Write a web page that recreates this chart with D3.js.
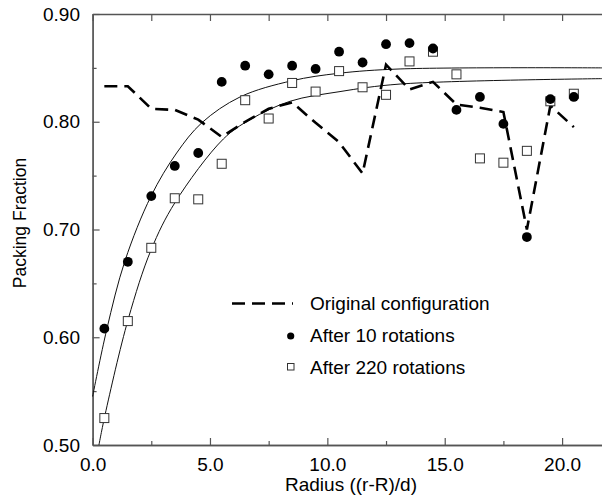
<!DOCTYPE html>
<html>
<head>
<meta charset="utf-8">
<script src="https://cdn.jsdelivr.net/npm/d3@7"></script>
<style>
    body { margin: 0; background: #fff; }
    svg { display: block; font-family: Arial, 'Liberation Sans', sans-serif; }
</style>
</head>
<body>
<svg id="chart" width="602" height="500"></svg>
<script>
// radius bins (centres)
var radius = [0.5, 1.5, 2.5, 3.5, 4.5, 5.5, 6.5, 7.5, 8.5, 9.5, 10.5,
    11.5, 12.5, 13.5, 14.5, 15.5, 16.5, 17.5, 18.5, 19.5, 20.5];

var original = [0.833, 0.833, 0.812, 0.811, 0.802, 0.786, 0.800, 0.812, 0.818, 0.799, 0.781,
    0.752, 0.853, 0.830, 0.837, 0.816, 0.813, 0.809, 0.700, 0.815, 0.795];

var after10 = [0.608, 0.670, 0.731, 0.759, 0.771, 0.837, 0.852, 0.844, 0.852, 0.849, 0.865,
    0.855, 0.872, 0.873, 0.868, 0.811, 0.823, 0.798, 0.693, 0.821, 0.823];

var after220 = [0.525, 0.615, 0.683, 0.729, 0.728, 0.761, 0.820, 0.803, 0.836, 0.828, 0.847,
    0.832, 0.825, 0.856, 0.865, 0.844, 0.766, 0.762, 0.773, 0.819, 0.826];

// fitted curves
var fit10X = [0, 0.6, 1.38, 2.49, 3.58, 4.65, 6.28, 8.48, 10.5, 13.1, 21.7];
var fit10Y = [0.545, 0.607, 0.671, 0.731, 0.771, 0.799, 0.823, 0.838, 0.845, 0.849, 0.850];
var fit220X = [0.27, 0.53, 1.52, 2.49, 3.51, 5.57, 6.71, 8.41, 10.54, 13.1, 21.7];
var fit220Y = [0.50, 0.528, 0.617, 0.681, 0.725, 0.784, 0.802, 0.819, 0.828, 0.835, 0.840];

var xMajor = [0, 5, 10, 15, 20];
var xMinor = [2.5, 7.5, 12.5, 17.5];
var yMajor = [0.5, 0.6, 0.7, 0.8, 0.9];
var yMinor = [0.55, 0.65, 0.75, 0.85];

var legendLabels = ['Original configuration', 'After 10 rotations', 'After 220 rotations'];

var svg = d3.select('#chart');

var margin = { left: 92.6, top: 14, right: 602, bottom: 445 };

var x = d3.scaleLinear().domain([0, 21.7]).range([margin.left, margin.right]);
var y = d3.scaleLinear().domain([0.5, 0.9]).range([margin.bottom, margin.top]);

var axisColor = '#555';

function styleAxis(g) {
    g.selectAll('path').attr('stroke', axisColor).attr('stroke-width', 1.3);
    g.selectAll('line').attr('stroke', axisColor).attr('stroke-width', 1.2);
    g.selectAll('text')
        .attr('fill', '#000')
        .style('font-size', '19px');
}

// bottom axis
svg.append('g')
    .attr('transform', 'translate(0,' + margin.bottom + ')')
    .call(d3.axisBottom(x).tickValues(xMajor).tickSize(-7).tickSizeOuter(0)
        .tickPadding(13).tickFormat(d3.format('.1f')))
    .call(styleAxis);

svg.append('g')
    .attr('transform', 'translate(0,' + margin.bottom + ')')
    .call(d3.axisBottom(x).tickValues(xMinor).tickSize(-4).tickSizeOuter(0).tickFormat(''))
    .call(styleAxis);

// top axis
svg.append('g')
    .attr('transform', 'translate(0,' + margin.top + ')')
    .call(d3.axisTop(x).tickValues(xMajor.concat(xMinor)).tickSize(-7).tickSizeOuter(0).tickFormat(''))
    .call(styleAxis);

// left axis
svg.append('g')
    .attr('transform', 'translate(' + margin.left + ',0)')
    .call(d3.axisLeft(y).tickValues(yMajor).tickSize(-7).tickSizeOuter(0)
        .tickPadding(12.6).tickFormat(d3.format('.2f')))
    .call(styleAxis);

svg.append('g')
    .attr('transform', 'translate(' + margin.left + ',0)')
    .call(d3.axisLeft(y).tickValues(yMinor).tickSize(-4).tickSizeOuter(0).tickFormat(''))
    .call(styleAxis);

// axis titles
svg.append('text')
    .attr('x', 351)
    .attr('y', 491)
    .attr('text-anchor', 'middle')
    .attr('fill', '#000')
    .style('font-size', '19px')
    .text('Radius ((r-R)/d)');

svg.append('text')
    .attr('transform', 'translate(26,223) rotate(-90)')
    .attr('text-anchor', 'middle')
    .attr('fill', '#000')
    .style('font-size', '17.5px')
    .text('Packing Fraction');

var plot = svg.append('g');

// fitted curves
var curve = d3.line()
    .x(function (d) { return x(d[0]); })
    .y(function (d) { return y(d[1]); })
    .curve(d3.curveCatmullRom.alpha(0.5));

plot.append('path')
    .datum(d3.zip(fit10X, fit10Y))
    .attr('fill', 'none')
    .attr('stroke', '#111')
    .attr('stroke-width', 1)
    .attr('d', curve);

plot.append('path')
    .datum(d3.zip(fit220X, fit220Y))
    .attr('fill', 'none')
    .attr('stroke', '#111')
    .attr('stroke-width', 1)
    .attr('d', curve);

// original configuration, dashed
var line = d3.line()
    .x(function (d) { return x(d[0]); })
    .y(function (d) { return y(d[1]); });

plot.append('path')
    .datum(d3.zip(radius, original))
    .attr('fill', 'none')
    .attr('stroke', '#000')
    .attr('stroke-width', 2.6)
    .attr('stroke-dasharray', '13,7')
    .attr('d', line);

// after 220 rotations, open squares
var sq = 9;
plot.selectAll('rect.r220')
    .data(d3.zip(radius, after220))
    .enter()
    .append('rect')
    .attr('class', 'r220')
    .attr('x', function (d) { return x(d[0]) - sq / 2; })
    .attr('y', function (d) { return y(d[1]) - sq / 2; })
    .attr('width', sq)
    .attr('height', sq)
    .attr('fill', '#fff')
    .attr('stroke', '#333')
    .attr('stroke-width', 1);

// after 10 rotations, filled circles
plot.selectAll('circle.r10')
    .data(d3.zip(radius, after10))
    .enter()
    .append('circle')
    .attr('class', 'r10')
    .attr('cx', function (d) { return x(d[0]); })
    .attr('cy', function (d) { return y(d[1]); })
    .attr('r', 4.9)
    .attr('fill', '#000');

// legend
var legend = svg.append('g');

legend.append('line')
    .attr('x1', 232)
    .attr('x2', 293)
    .attr('y1', 303.5)
    .attr('y2', 303.5)
    .attr('stroke', '#000')
    .attr('stroke-width', 2.6)
    .attr('stroke-dasharray', '13,7');

legend.append('circle')
    .attr('cx', 290.7)
    .attr('cy', 336)
    .attr('r', 3.6)
    .attr('fill', '#000');

legend.append('rect')
    .attr('x', 287.5)
    .attr('y', 363.5)
    .attr('width', 6.5)
    .attr('height', 6.5)
    .attr('fill', '#fff')
    .attr('stroke', '#333')
    .attr('stroke-width', 1);

legend.selectAll('text')
    .data(legendLabels)
    .enter()
    .append('text')
    .attr('x', 310)
    .attr('y', function (d, i) { return 309.5 + i * 32; })
    .attr('fill', '#000')
    .style('font-size', '19px')
    .text(function (d) { return d; });
</script>
</body>
</html>
